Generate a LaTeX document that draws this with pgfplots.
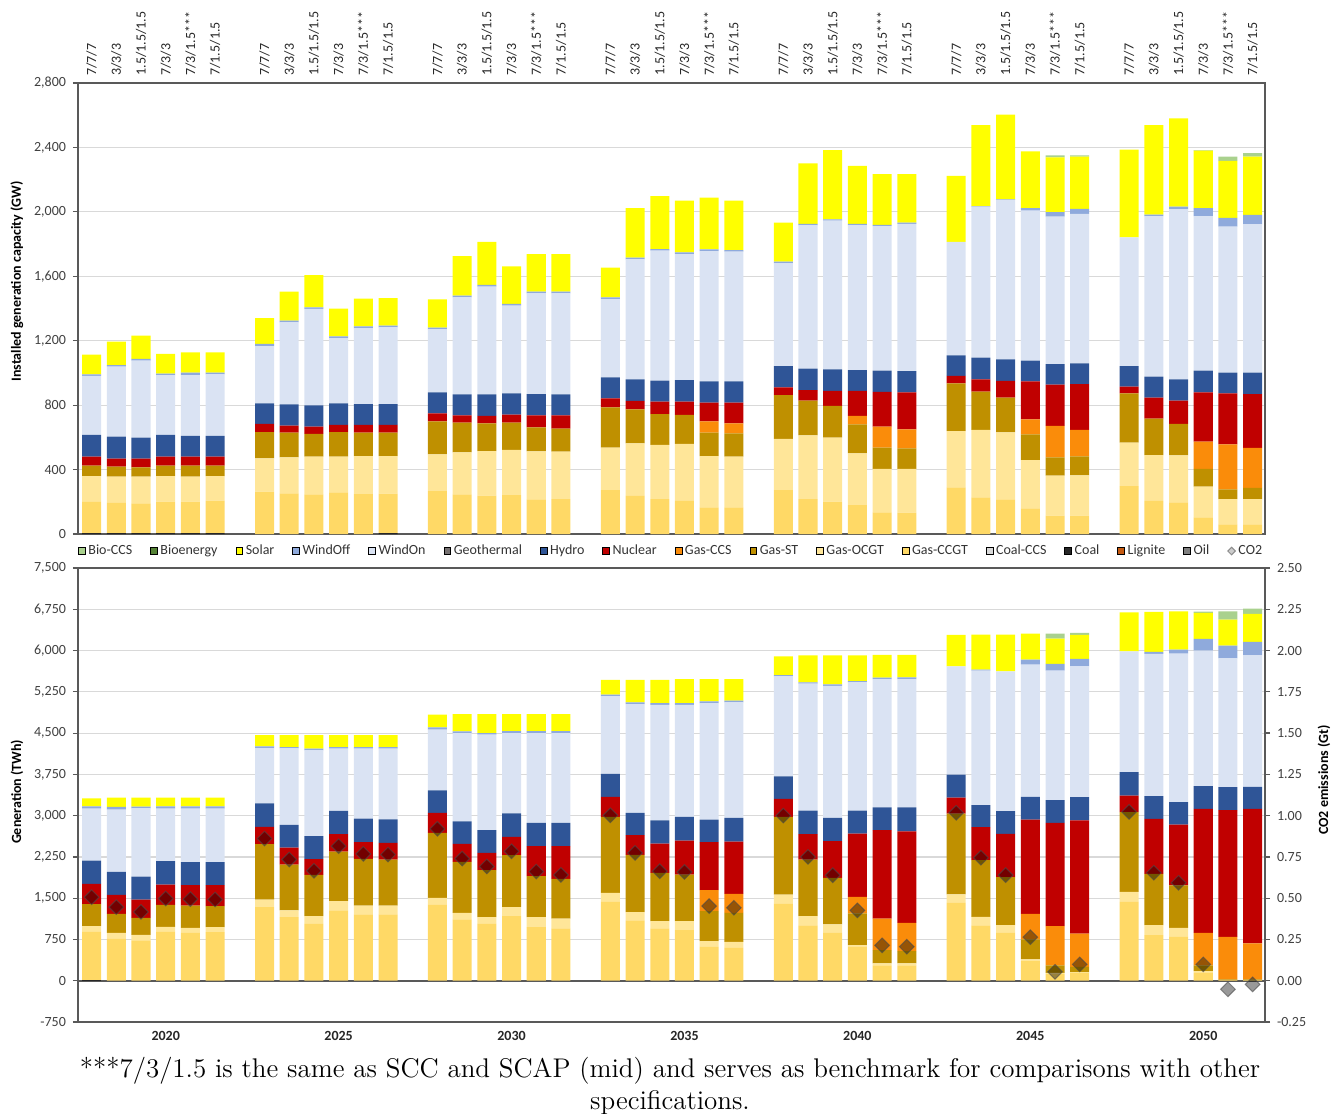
\documentclass[border=0pt]{standalone}
\usepackage{fontspec}
\setsansfont{Carlito}
\usepackage{pgfplots}
\usepackage{pgfplotstable}
\pgfplotsset{compat=1.18}
\definecolor{bioccsc}{HTML}{A9D18E}
\definecolor{bioc}{HTML}{548235}
\definecolor{solarc}{HTML}{FFFF00}
\definecolor{windoffc}{HTML}{8FAADC}
\definecolor{windonc}{HTML}{DAE3F3}
\definecolor{geoc}{HTML}{767171}
\definecolor{hydroc}{HTML}{2F5597}
\definecolor{nucc}{HTML}{C00000}
\definecolor{ccsc}{HTML}{FA8C0A}
\definecolor{stc}{HTML}{BF9000}
\definecolor{ocgtc}{HTML}{FFE699}
\definecolor{ccgtc}{HTML}{FFD966}
\definecolor{coalccsc}{HTML}{D9D9D9}
\definecolor{coalc}{HTML}{262626}
\definecolor{lignitec}{HTML}{C55A11}
\definecolor{oilc}{HTML}{7F7F7F}
\definecolor{axisc}{HTML}{595959}
\definecolor{gridc}{HTML}{D9D9D9}

\pgfplotstableread{
x coal ccgt ocgt st ccs nuc hydro windon windoff solar bioccs
0 5 195 160 64 0 56 135 366 10 122 0
1 5 189 162 62 0 50 136 435 10 145 0
2 5 185 166 58 0 54 130 478 11 144 0
3 5 196 159 64 0 56 135 370 10 123 0
4 5 196 155 68 0 56 130 377 15 126 0
5 5 202 153 64 0 56 130 381 11 126 0
7 0 263 207 163 0 50 128 356 13 161 0
8 0 252 224 153 0 44 132 509 11 180 0
9 0 246 234 141 0 45 133 598 10 201 0
10 0 259 221 153 0 44 134 404 12 172 0
11 0 248 236 145 0 48 130 470 12 172 0
12 5 245 234 145 0 48 130 476 10 172 0
14 0 267 228 204 0 50 131 391 10 176 0
15 0 246 261 184 0 46 130 602 11 246 0
16 0 238 277 172 0 46 134 669 10 267 0
17 0 242 280 169 0 50 132 545 10 234 0
18 0 215 298 149 0 75 132 625 11 233 0
19 0 217 294 143 0 83 130 627 11 233 0
21 0 273 263 250 0 56 131 486 10 185 0
22 0 236 327 211 0 52 134 745 11 308 0
23 0 217 336 192 0 77 130 807 10 329 0
24 0 205 354 180 0 83 134 782 11 321 0
25 0 166 318 145 71 115 133 809 10 321 0
26 0 166 314 145 62 128 133 805 10 307 0
28 0 273 317 273 0 48 132 637 11 242 0
29 0 217 396 215 0 66 132 890 9 376 0
30 0 201 397 197 0 93 134 923 9 430 0
31 0 180 321 180 52 155 130 898 9 360 0
32 0 135 269 132 130 216 132 898 8 315 0
33 0 132 272 128 118 230 132 913 8 302 0
35 0 290 349 296 0 46 128 704 0 410 0
36 0 228 418 238 0 76 135 937 4 503 0
37 0 215 416 215 0 104 134 990 4 525 0
38 0 159 300 160 93 236 128 931 17 352 0
39 0 114 248 114 195 256 128 915 29 340 12
40 0 114 250 118 164 285 129 927 31 325 8
42 0 298 269 306 0 42 128 799 0 545 0
43 0 205 285 226 0 130 131 997 9 556 0
44 0 197 291 195 0 145 132 1056 16 548 0
45 0 103 191 110 169 307 134 960 50 356 4
46 0 60 157 60 280 316 129 906 54 354 27
47 0 60 157 69 248 335 133 921 58 362 21
}\gwtab

\pgfplotstableread{
x coal ccgt ocgt st ccs nuc hydro windon windoff solar bioccs co2
0 15 874 103 400 0 369 423 944 42 145 0 0.506
1 0 762 109 345 0 345 417 1132 48 170 0 0.446
2 0 732 103 308 0 333 418 1240 30 164 0 0.417
3 0 889 91 399 0 369 424 956 42 158 0 0.498
4 0 871 91 405 0 369 418 974 42 158 0 0.494
5 0 883 91 381 0 381 418 974 42 158 0 0.492
7 0 1337 139 1005 0 314 430 998 36 206 0 0.861
8 0 1156 121 834 0 309 411 1392 24 218 0 0.734
9 0 1035 139 750 0 284 418 1561 30 248 0 0.666
10 0 1277 169 901 0 315 424 1131 30 218 0 0.815
11 0 1204 163 847 0 303 429 1271 30 218 0 0.768
12 0 1204 163 835 0 303 429 1283 30 218 0 0.764
14 0 1379 127 1180 0 363 412 1101 42 230 0 0.920
15 0 1113 121 926 0 327 411 1603 30 315 0 0.740
16 0 1035 121 853 0 314 412 1736 30 345 0 0.692
17 0 1174 163 944 0 333 429 1458 37 308 0 0.784
18 0 974 182 744 0 544 424 1633 37 308 0 0.661
19 0 950 181 720 0 593 424 1633 37 308 0 0.641
21 0 1434 163 1380 0 363 417 1410 30 272 0 1.002
22 0 1095 151 1041 0 357 405 1979 30 411 0 0.774
23 0 950 133 877 0 533 423 2099 31 423 0 0.663
24 0 920 163 847 0 617 430 2038 31 435 0 0.659
25 0 617 103 544 382 871 411 2118 30 405 0 0.452
26 0 599 109 526 345 950 429 2100 30 393 0 0.442
28 0 1398 169 1410 0 326 412 1815 24 339 0 1.000
29 0 1004 170 1028 0 460 430 2305 24 490 0 0.750
30 0 871 151 847 0 666 423 2402 24 527 0 0.639
31 0 617 30 575 303 1149 418 2329 24 466 0 0.426
32 0 278 37 242 574 1604 417 2329 25 417 0 0.214
33 0 278 37 223 515 1663 436 2329 31 411 0 0.206
35 0 1416 152 1471 0 290 418 1967 0 569 0 1.017
36 0 1005 157 1029 0 600 399 2446 18 635 0 0.745
37 0 872 139 872 0 786 412 2542 0 666 0 0.640
38 0 357 31 363 466 1713 411 2403 91 472 0 0.264
39 0 127 18 133 715 1876 412 2355 120 461 90 0.054
40 0 145 12 97 600 2058 423 2379 134 435 37 0.099
42 0 1435 181 1447 0 303 424 2196 0 709 0 1.023
43 0 829 182 932 0 1000 410 2585 37 726 0 0.654
44 0 799 163 769 0 1108 406 2699 73 696 0 0.593
45 0 145 30 103 594 2252 411 2464 212 472 24 0.099
46 0 10 0 15 774 2300 418 2342 231 472 151 -0.052
47 0 10 0 15 653 2446 399 2391 243 508 96 -0.022
}\twhtab

\pgfplotsset{
  sqleg/.style={legend image code/.code={\fill[##1] (0pt,-1.7pt) rectangle (3.4pt,1.7pt);}},
  base/.style={
    scale only axis, width=593.5pt,
    xmin=-0.55, xmax=47.5,
    ybar stacked, bar width=0.77,
    ymajorgrids, grid style={gridc, line width=0.6pt},
    axis line style={axisc, line width=0.9pt},
    tick align=outside, major tick length=2.5pt,
    tick style={axisc, line width=0.6pt},
    xtick style={draw=none},
    ytick pos=left,
    scaled y ticks=false,
    yticklabel style={font=\sffamily\fontsize{7}{8}\selectfont, text=black!75},
    /pgf/number format/.cd, 1000 sep={,}, assume math mode=true,
  },
}

\begin{document}
\begin{tikzpicture}
\path[use as bounding box] (0,0) rectangle (667pt,-557pt);
% ---------------- top: capacity
\begin{axis}[base,
  at={(39pt,-267pt)}, anchor=south west, height=225.5pt,
  ymin=0, ymax=2800, ytick={0,400,...,2800},
  xtick={0,1,2,3,4,5,7,8,9,10,11,12,14,15,16,17,18,19,21,22,23,24,25,26,28,29,30,31,32,33,35,36,37,38,39,40,42,43,44,45,46,47},
  xticklabels={7/7/7,3/3/3,1.5/1.5/1.5,7/3/3,7/3/1.5***,7/1.5/1.5,7/7/7,3/3/3,1.5/1.5/1.5,7/3/3,7/3/1.5***,7/1.5/1.5,7/7/7,3/3/3,1.5/1.5/1.5,7/3/3,7/3/1.5***,7/1.5/1.5,7/7/7,3/3/3,1.5/1.5/1.5,7/3/3,7/3/1.5***,7/1.5/1.5,7/7/7,3/3/3,1.5/1.5/1.5,7/3/3,7/3/1.5***,7/1.5/1.5,7/7/7,3/3/3,1.5/1.5/1.5,7/3/3,7/3/1.5***,7/1.5/1.5,7/7/7,3/3/3,1.5/1.5/1.5,7/3/3,7/3/1.5***,7/1.5/1.5},
  xticklabel pos=upper,
  xticklabel style={rotate=90, anchor=west, inner sep=1pt, font=\sffamily\fontsize{7}{8}\selectfont, text=black!85},
  every axis y label/.style={at={(axis description cs:-0.0514,0.56)}, anchor=center, rotate=90, font=\sffamily\bfseries\fontsize{7}{8}\selectfont},
  ylabel={Installed generation capacity (GW)},
  legend columns=-1,
  legend style={at={(0.5,-0.0377)}, anchor=center, draw=none, fill=none,
    font=\sffamily\fontsize{7}{8}\selectfont, text=black!80,
    /tikz/every even column/.append style={column sep=7.7pt},
    inner sep=0pt, nodes={inner sep=1.3pt}},
]
\addplot[fill=coalc, draw=none, forget plot] table[x=x,y=coal]{\gwtab};
\addplot[fill=ccgtc, draw=none, forget plot] table[x=x,y=ccgt]{\gwtab};
\addplot[fill=ocgtc, draw=none, forget plot] table[x=x,y=ocgt]{\gwtab};
\addplot[fill=stc, draw=none, forget plot] table[x=x,y=st]{\gwtab};
\addplot[fill=ccsc, draw=none, forget plot] table[x=x,y=ccs]{\gwtab};
\addplot[fill=nucc, draw=none, forget plot] table[x=x,y=nuc]{\gwtab};
\addplot[fill=hydroc, draw=none, forget plot] table[x=x,y=hydro]{\gwtab};
\addplot[fill=windonc, draw=none, forget plot] table[x=x,y=windon]{\gwtab};
\addplot[fill=windoffc, draw=none, forget plot] table[x=x,y=windoff]{\gwtab};
\addplot[fill=solarc, draw=none, forget plot] table[x=x,y=solar]{\gwtab};
\addplot[fill=bioccsc, draw=none, forget plot] table[x=x,y=bioccs]{\gwtab};
\addlegendimage{sqleg, fill=bioccsc}\addlegendentry{Bio-CCS}
\addlegendimage{sqleg, fill=bioc}\addlegendentry{Bioenergy}
\addlegendimage{sqleg, fill=solarc}\addlegendentry{Solar}
\addlegendimage{sqleg, fill=windoffc}\addlegendentry{WindOff}
\addlegendimage{sqleg, fill=windonc}\addlegendentry{WindOn}
\addlegendimage{sqleg, fill=geoc}\addlegendentry{Geothermal}
\addlegendimage{sqleg, fill=hydroc}\addlegendentry{Hydro}
\addlegendimage{sqleg, fill=nucc}\addlegendentry{Nuclear}
\addlegendimage{sqleg, fill=ccsc}\addlegendentry{Gas-CCS}
\addlegendimage{sqleg, fill=stc}\addlegendentry{Gas-ST}
\addlegendimage{sqleg, fill=ocgtc}\addlegendentry{Gas-OCGT}
\addlegendimage{sqleg, fill=ccgtc}\addlegendentry{Gas-CCGT}
\addlegendimage{sqleg, fill=coalccsc}\addlegendentry{Coal-CCS}
\addlegendimage{sqleg, fill=coalc}\addlegendentry{Coal}
\addlegendimage{sqleg, fill=lignitec}\addlegendentry{Lignite}
\addlegendimage{sqleg, fill=oilc}\addlegendentry{Oil}
\addlegendimage{legend image code/.code={\draw[black!45, fill=black!20, line width=0.5pt] (1.7pt,1.9pt) -- (3.6pt,0pt) -- (1.7pt,-1.9pt) -- (-0.2pt,0pt) -- cycle;}}\addlegendentry{CO2}
\end{axis}
% ---------------- bottom: generation
\begin{axis}[base,
  at={(39pt,-511pt)}, anchor=south west, height=227pt,
  ymin=-750, ymax=7500, ytick={-750,0,750,...,7500},
  xtick={3,10,17,24,31,38,45},
  xticklabels={2020,2025,2030,2035,2040,2045,2050},
  xticklabel style={font=\sffamily\bfseries\fontsize{7}{8}\selectfont, text=black!85, inner sep=2pt},
  every axis y label/.style={at={(axis description cs:-0.0514,0.507)}, anchor=center, rotate=90, font=\sffamily\bfseries\fontsize{7}{8}\selectfont},
  ylabel={Generation (TWh)},
]
\addplot[fill=coalc, draw=none, forget plot] table[x=x,y=coal]{\twhtab};
\addplot[fill=ccgtc, draw=none, forget plot] table[x=x,y=ccgt]{\twhtab};
\addplot[fill=ocgtc, draw=none, forget plot] table[x=x,y=ocgt]{\twhtab};
\addplot[fill=stc, draw=none, forget plot] table[x=x,y=st]{\twhtab};
\addplot[fill=ccsc, draw=none, forget plot] table[x=x,y=ccs]{\twhtab};
\addplot[fill=nucc, draw=none, forget plot] table[x=x,y=nuc]{\twhtab};
\addplot[fill=hydroc, draw=none, forget plot] table[x=x,y=hydro]{\twhtab};
\addplot[fill=windonc, draw=none, forget plot] table[x=x,y=windon]{\twhtab};
\addplot[fill=windoffc, draw=none, forget plot] table[x=x,y=windoff]{\twhtab};
\addplot[fill=solarc, draw=none, forget plot] table[x=x,y=solar]{\twhtab};
\addplot[fill=bioccsc, draw=none, forget plot] table[x=x,y=bioccs]{\twhtab};
\draw[axisc, line width=0.9pt] (axis cs:-0.55,0) -- (axis cs:47.5,0);
\end{axis}
% ---------------- right axis: CO2
\begin{axis}[
  at={(39pt,-511pt)}, anchor=south west, scale only axis, width=593.5pt, height=227pt,
  xmin=-0.55, xmax=47.5, ymin=-0.25, ymax=2.5,
  axis x line=none, axis y line*=right,
  axis line style={axisc, line width=0.9pt},
  tick align=outside, major tick length=2.5pt,
  tick style={axisc, line width=0.6pt},
  ytick={-0.25,0,0.25,...,2.5},
  yticklabel style={font=\sffamily\fontsize{7}{8}\selectfont, text=black!75,
    /pgf/number format/.cd, fixed, fixed zerofill, precision=2, assume math mode=true},
  every axis y label/.style={at={(axis description cs:1.0497,0.533)}, anchor=center, rotate=90, font=\sffamily\bfseries\fontsize{7}{8}\selectfont},
  ylabel={CO2 emissions (Gt)},
]
\addplot[only marks, mark=square*, mark size=2.6pt,
  mark options={rotate=45, fill=black, fill opacity=0.4, draw=black!70, draw opacity=0.6, line width=0.5pt}]
  table[x=x,y=co2]{\twhtab};
\end{axis}
\node[anchor=north, inner sep=0pt, align=center, font=\fontsize{13.5}{16}\selectfont]
  at (335pt,-528.5pt) {***7/3/1.5 is the same as SCC and SCAP (mid) and serves as benchmark for comparisons with other\\specifications.};
\end{tikzpicture}
\end{document}
